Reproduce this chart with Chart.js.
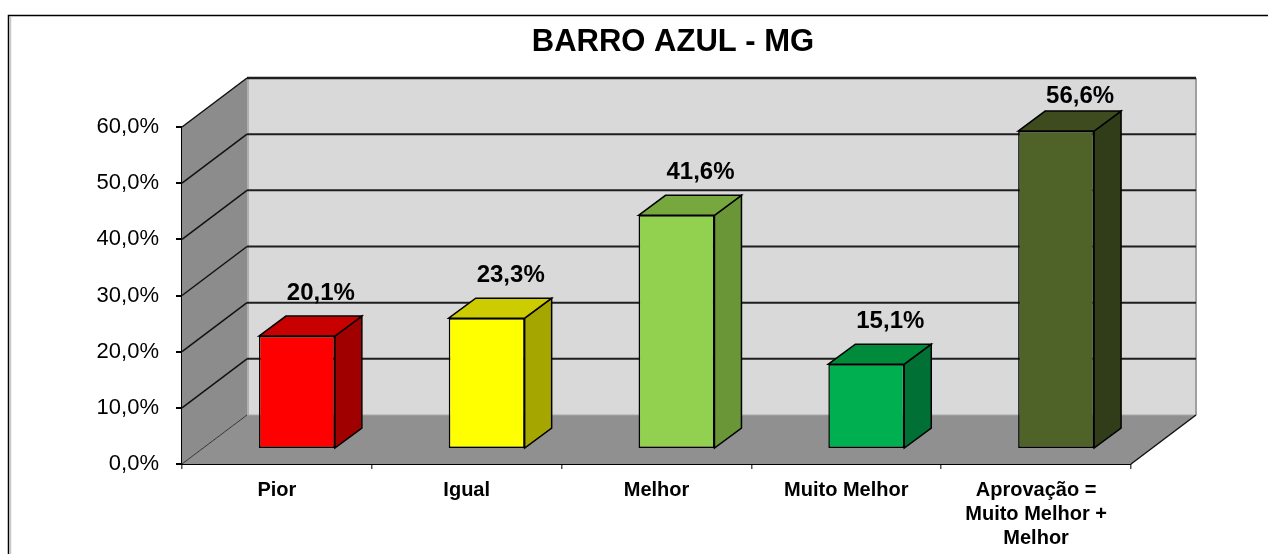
<!DOCTYPE html>
<html>
<head>
<meta charset="utf-8">
<script src="https://cdn.jsdelivr.net/npm/chart.js@4.4.1/dist/chart.umd.min.js"></script>
<style>
  html, body { margin: 0; padding: 0; background: #fff; }
  #wrap { width: 1268px; height: 554px; position: relative; }
</style>
</head>
<body>
<div id="wrap"><canvas id="graph" width="1268" height="554"></canvas></div>
<script>
const titleText = 'BARRO AZUL - MG';
const categories = ['Pior', 'Igual', 'Melhor', 'Muito Melhor', ['Aprovação =', 'Muito Melhor +', 'Melhor']];
const values = [20.1, 23.3, 41.6, 15.1, 56.6];
const frontColors = ['#ff0000', '#ffff00', '#92d050', '#00b050', '#4f6228'];
const sideColors = ['#a00000', '#a6a600', '#6a9638', '#007034', '#313d18'];
const topColors = ['#c80000', '#cccc00', '#76a83e', '#008a3c', '#3d4b1f'];
const yTicks = [0, 10, 20, 30, 40, 50, 60];

// depth of the 3d box: back wall and bars
const wallDX = 65, wallDY = -49;
const barShiftX = 20, barShiftY = -15;
const barDX = 27, barDY = -20;

function poly(ctx, pts, fill, stroke, lw) {
  ctx.beginPath();
  ctx.moveTo(pts[0][0], pts[0][1]);
  for (let i = 1; i < pts.length; i++) ctx.lineTo(pts[i][0], pts[i][1]);
  ctx.closePath();
  if (fill) { ctx.fillStyle = fill; ctx.fill(); }
  if (stroke) { ctx.strokeStyle = stroke; ctx.lineWidth = lw || 1; ctx.stroke(); }
}

function line(ctx, x1, y1, x2, y2, color, lw) {
  ctx.beginPath();
  ctx.moveTo(x1, y1);
  ctx.lineTo(x2, y2);
  ctx.strokeStyle = color;
  ctx.lineWidth = lw;
  ctx.stroke();
}

const box3d = {
  id: 'box3d',
  beforeDraw(chart) {
    const ctx = chart.ctx;
    ctx.save();
    ctx.fillStyle = '#ffffff';
    ctx.fillRect(0, 0, chart.width, chart.height);
    // outer frame
    ctx.strokeStyle = '#000';
    ctx.lineWidth = 1.5;
    ctx.beginPath();
    ctx.moveTo(8.5, chart.height + 2);
    ctx.lineTo(8.5, 15.5);
    ctx.lineTo(chart.width + 2, 15.5);
    ctx.stroke();
    line(ctx, 10.5, 17, 10.5, chart.height, '#c8c8c8', 1.5);
    // title
    ctx.fillStyle = '#000';
    ctx.font = 'bold 31px "Liberation Sans", Arial, sans-serif';
    ctx.textAlign = 'center';
    ctx.textBaseline = 'alphabetic';
    ctx.fillText(titleText, 673, 51);
    ctx.restore();
  },
  beforeDatasetsDraw(chart) {
    const ctx = chart.ctx;
    const x = chart.scales.x, y = chart.scales.y;
    const L = x.left, R = x.right;
    const y0 = y.getPixelForValue(0);
    const yTop = y.getPixelForValue(60);
    ctx.save();
    // side wall
    poly(ctx, [[L, y0], [L, yTop], [L + wallDX, yTop + wallDY], [L + wallDX, y0 + wallDY]], '#8c8c8c');
    // floor
    poly(ctx, [[L, y0], [R, y0], [R + wallDX, y0 + wallDY], [L + wallDX, y0 + wallDY]], '#909090');
    // back wall
    ctx.fillStyle = '#d9d9d9';
    ctx.fillRect(L + wallDX, yTop + wallDY, R - L, y0 - yTop);
    line(ctx, L + wallDX + 1, yTop + wallDY, L + wallDX + 1, y0 + wallDY, '#b0b0b0', 2);
    line(ctx, R + wallDX, yTop + wallDY, R + wallDX, y0 + wallDY, '#a0a0a0', 2);
    line(ctx, L + wallDX, y0 + wallDY, R + wallDX, y0 + wallDY, '#a8a8a8', 1);
    // gridlines on back and side wall
    yTicks.forEach(v => {
      const py = y.getPixelForValue(v);
      if (v > 0) {
        line(ctx, L + wallDX, py + wallDY, R + wallDX, py + wallDY, '#1e1e1e', v === 60 ? 2.5 : 2);
        line(ctx, L, py, L + wallDX, py + wallDY, '#111', 1.5);
      } else {
        line(ctx, L, py, L + wallDX, py + wallDY, '#333', 1);
      }
    });
    // floor right edge
    line(ctx, R, y0, R + wallDX, y0 + wallDY, '#111', 1.5);
    // side and top faces of the bars
    const meta = chart.getDatasetMeta(0);
    meta.data.forEach((bar, i) => {
      const p = bar.getProps(['x', 'y', 'base', 'width'], true);
      const xl = p.x - p.width / 2 + barShiftX;
      const xr = p.x + p.width / 2 + barShiftX;
      const yt = p.y + barShiftY;
      const yb = p.base + barShiftY;
      poly(ctx, [[xr, yt], [xr + barDX, yt + barDY], [xr + barDX, yb + barDY], [xr, yb]], sideColors[i], '#000', 1.5);
      poly(ctx, [[xl, yt], [xl + barDX, yt + barDY], [xr + barDX, yt + barDY], [xr, yt]], topColors[i], '#000', 1.5);
    });
    ctx.restore();
  },
  beforeDatasetDraw(chart) {
    chart.ctx.save();
    chart.ctx.translate(barShiftX, barShiftY);
  },
  afterDatasetDraw(chart) {
    chart.ctx.restore();
  },
  afterDatasetsDraw(chart) {
    const ctx = chart.ctx;
    const meta = chart.getDatasetMeta(0);
    ctx.save();
    ctx.fillStyle = '#000';
    ctx.font = 'bold 24px "Liberation Sans", Arial, sans-serif';
    ctx.textAlign = 'center';
    ctx.textBaseline = 'middle';
    meta.data.forEach((bar, i) => {
      const p = bar.getProps(['x', 'y'], true);
      const label = values[i].toFixed(1).replace('.', ',') + '%';
      // labels near the top of the box stay inside it
      const ly = Math.max(p.y + barShiftY + barDY - 23, chart.chartArea.top - 31);
      ctx.fillText(label, p.x + barShiftX + 24, ly);
    });
    ctx.restore();
  }
};

const ctx = document.getElementById('graph').getContext('2d');
window.myChart = new Chart(ctx, {
  type: 'bar',
  data: {
    labels: categories,
    datasets: [{
      data: values,
      backgroundColor: frontColors,
      borderColor: '#000',
      borderWidth: 1.5,
      borderSkipped: false,
      barPercentage: 0.4,
      categoryPercentage: 1.0
    }]
  },
  options: {
    responsive: false,
    animation: false,
    layout: { padding: { top: 127, right: 137, left: 0, bottom: 0 } },
    plugins: {
      legend: { display: false },
      tooltip: { enabled: false },
      title: { display: false }
    },
    scales: {
      x: {
        afterFit: (scale) => { scale.height = 90; },
        grid: {
          display: true,
          offset: true,
          drawOnChartArea: false,
          drawTicks: true,
          tickLength: 5,
          color: '#555',
          lineWidth: 1.5
        },
        border: { display: true, color: '#000', width: 2 },
        ticks: {
          color: '#000',
          padding: 9,
          maxRotation: 0,
          autoSkip: false,
          font: { family: '"Liberation Sans", Arial, sans-serif', size: 20, weight: 'bold', lineHeight: 1.2 }
        }
      },
      y: {
        min: 0,
        max: 60,
        afterFit: (scale) => { scale.width = 182; },
        grid: {
          display: true,
          drawOnChartArea: false,
          drawTicks: true,
          tickLength: 6,
          color: '#000',
          lineWidth: 2
        },
        border: { display: true, color: '#000', width: 2 },
        ticks: {
          stepSize: 10,
          color: '#000',
          padding: 17,
          font: { family: '"Liberation Sans", Arial, sans-serif', size: 22 },
          callback: (v) => v.toFixed(1).replace('.', ',') + '%'
        }
      }
    }
  },
  plugins: [box3d]
});
</script>
</body>
</html>
